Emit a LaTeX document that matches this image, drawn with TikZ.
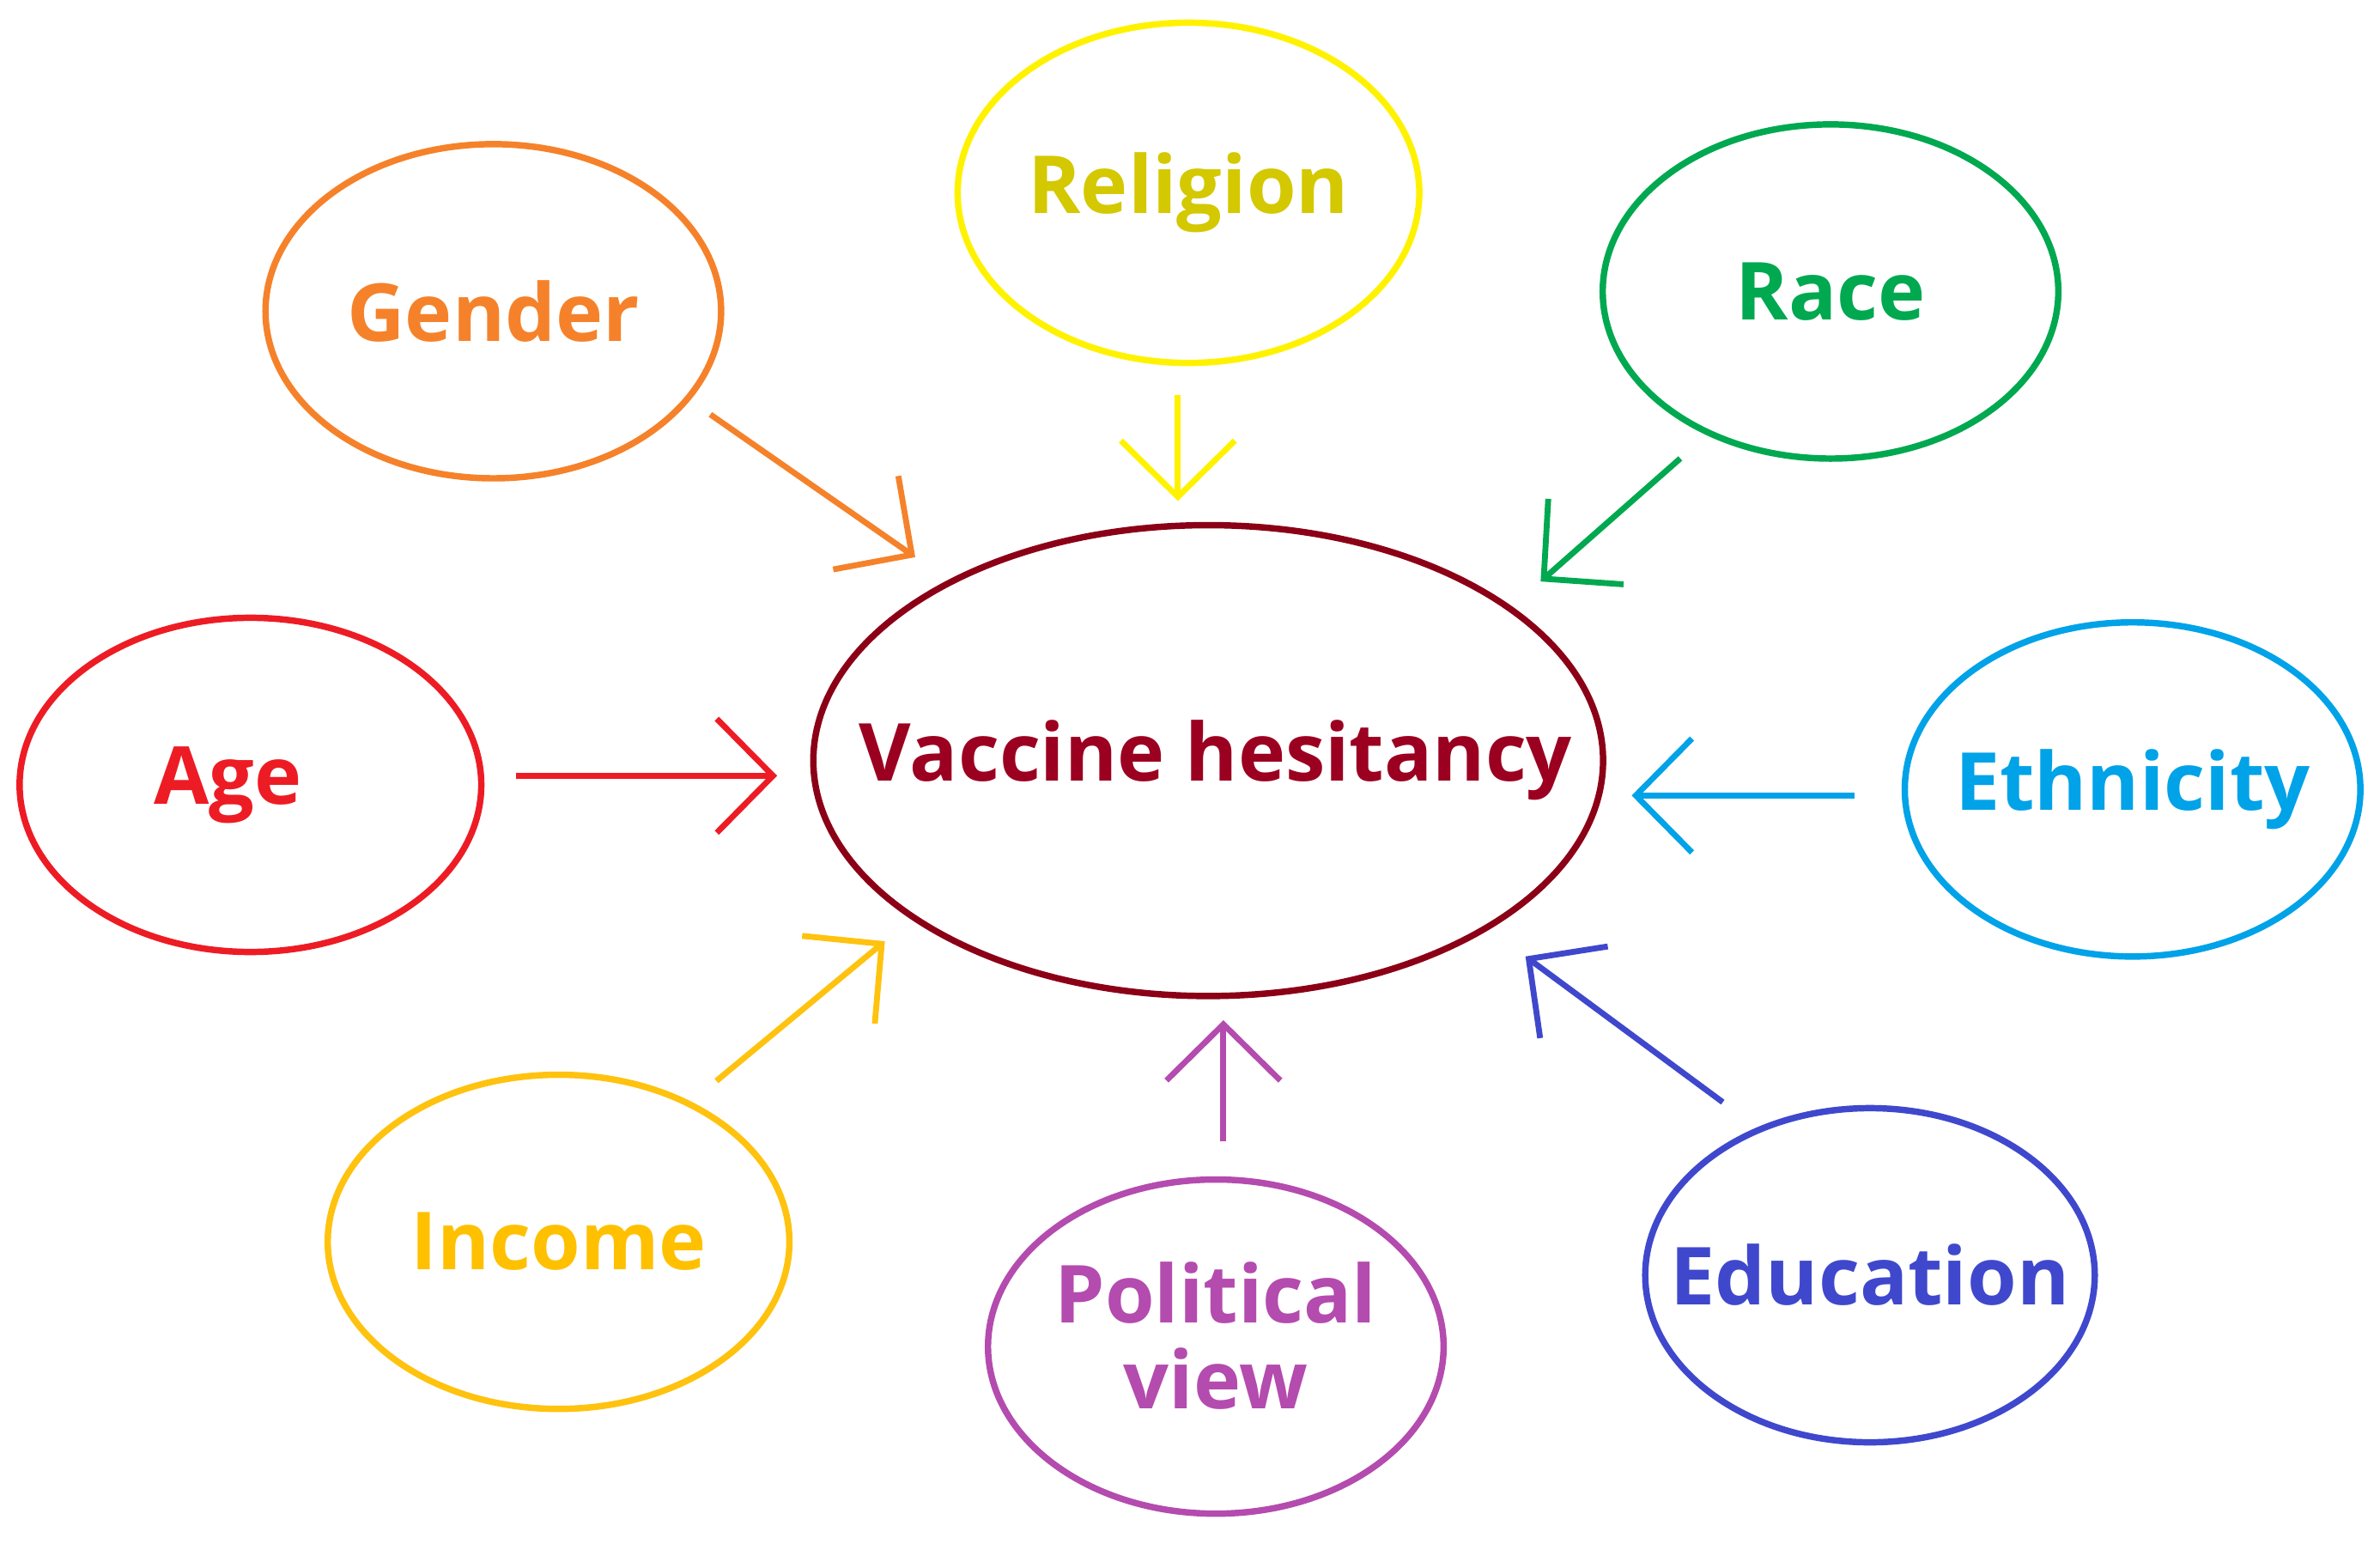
\documentclass[tikz,border=0pt]{standalone}
\usepackage{fontspec}
\setmainfont{Open Sans}
\usetikzlibrary{shapes.geometric,arrows.meta}
\definecolor{cGender}{HTML}{F5822A}
\definecolor{cRelE}{HTML}{FFF200}
\definecolor{cRelT}{HTML}{D4C800}
\definecolor{cRace}{HTML}{00A850}
\definecolor{cAge}{HTML}{ED1C24}
\definecolor{cVacE}{HTML}{8B0016}
\definecolor{cVacT}{HTML}{9B0020}
\definecolor{cEth}{HTML}{00A2E8}
\definecolor{cIncE}{HTML}{FFC20E}
\definecolor{cIncT}{HTML}{FFC000}
\definecolor{cPol}{HTML}{B44BAE}
\definecolor{cEdu}{HTML}{3F48CC}
\newcommand{\zb}[1]{\makebox[0pt]{#1}}
\tikzset{
  factor/.style={ellipse,draw,line width=1.2pt,minimum width=3.0cm,minimum height=2.2cm,font=\fontsize{15}{18}\selectfont\bfseries,align=center,inner sep=0pt},
  arr/.style={line width=1.1pt,-{Straight Barb[length=3.7mm,width=7.5mm,line width=1.1pt]}}
}
\begin{document}
\begin{tikzpicture}[x=0.01cm,y=-0.01cm]
\useasboundingbox (0,0) rectangle (1568,1017);
\node[factor,draw=cVacE,text=cVacT,minimum width=5.2cm,minimum height=3.1cm,font=\fontsize{15}{18}\selectfont\bfseries] (vh) at (796,501) {\zb{\hspace*{0.1cm}\raisebox{-0.09cm}{Vaccine hesitancy}}};
\node[factor,draw=cGender,text=cGender] (gender) at (325,205) {\zb{Gender}};
\node[factor,draw=cRelE,text=cRelT,minimum width=3.04cm,minimum height=2.24cm] (religion) at (783,127) {\zb{\raisebox{-0.05cm}{Religion}}};
\node[factor,draw=cRace,text=cRace] (race) at (1206,192) {\zb{Race}};
\node[factor,draw=cAge,text=cAge,minimum width=3.04cm] (age) at (165,517) {\zb{\hspace*{-0.3cm}\raisebox{-0.07cm}{Age}}};
\node[factor,draw=cEth,text=cEth] (eth) at (1405,520) {\zb{\raisebox{-0.03cm}{Ethnicity}}};
\node[factor,draw=cIncE,text=cIncT,minimum width=3.04cm] (income) at (368,818) {\zb{Income}};
\node[factor,draw=cPol,text=cPol] (pol) at (801,887) {\zb{\begin{tabular}{@{}c@{}}Political\\[-2pt]view\end{tabular}}};
\node[factor,draw=cEdu,text=cEdu,minimum width=2.96cm] (edu) at (1232,840) {\zb{Education}};
\coordinate (g1) at (468,273); \coordinate (g2) at (603,367);
\coordinate (r1) at (776,260); \coordinate (r2) at (776,330);
\coordinate (ra1) at (1107,302); \coordinate (ra2) at (1015,383);
\coordinate (a1) at (340,511); \coordinate (a2) at (512,511);
\coordinate (e1) at (1222,524); \coordinate (e2) at (1075,524);
\coordinate (i1) at (472,712); \coordinate (i2) at (583,620);
\coordinate (p1) at (806,752); \coordinate (p2) at (806,672);
\coordinate (ed1) at (1135,726); \coordinate (ed2) at (1005,630);
\draw[arr,cGender] (g1) -- (g2);
\draw[arr,cRelE] (r1) -- (r2);
\draw[arr,cRace] (ra1) -- (ra2);
\draw[arr,cAge] (a1) -- (a2);
\draw[arr,cEth] (e1) -- (e2);
\draw[arr,cIncE] (i1) -- (i2);
\draw[arr,cPol] (p1) -- (p2);
\draw[arr,cEdu] (ed1) -- (ed2);
\end{tikzpicture}
\end{document}
